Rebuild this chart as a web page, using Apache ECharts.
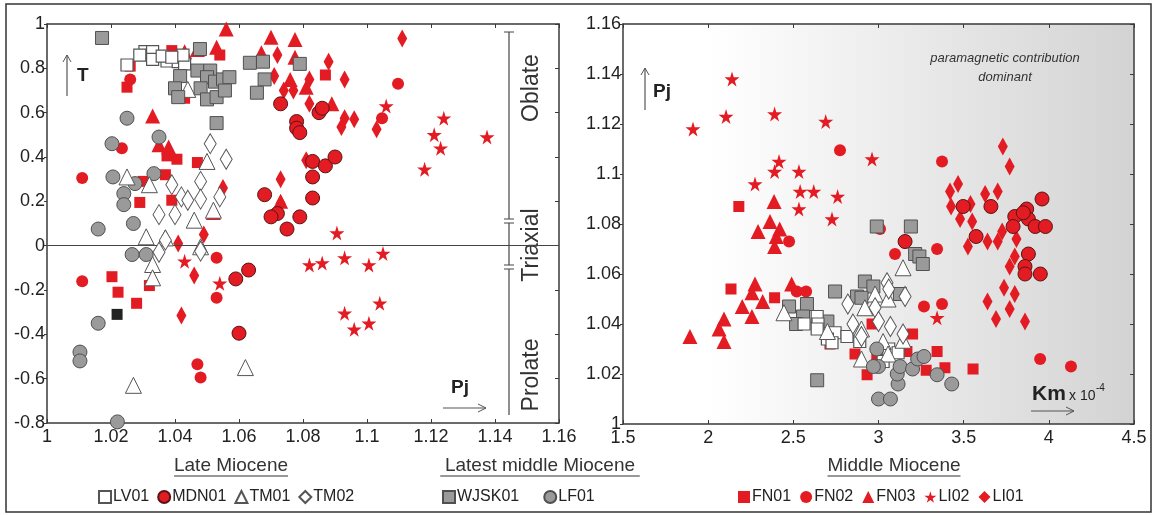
<!DOCTYPE html>
<html>
<head>
<meta charset="utf-8">
<script src="https://cdn.jsdelivr.net/npm/echarts@6/dist/echarts.min.js"></script>
<style>
  html, body { margin: 0; padding: 0; background: #fff; }
  #chart { width: 1154px; height: 515px; }
</style>
</head>
<body>
<div id="chart"></div>
<script>
// left panel: Pj (x) vs T (y)
var lv01L = [[1.025,0.815],[1.0306,0.875],[1.033,0.875],[1.033,0.84],[1.0375,0.833],[1.041,0.83],[1.043,0.82],[1.0425,0.86],[1.036,0.855],[1.029,0.86],[1.039,0.85]];
var mdn01L = [[1.073,0.64],[1.078,0.56],[1.078,0.53],[1.079,0.51],[1.085,0.60],[1.086,0.62],[1.083,0.38],[1.087,0.36],[1.090,0.40],[1.083,0.31],[1.083,0.215],[1.068,0.23],[1.072,0.145],[1.070,0.13],[1.075,0.075],[1.079,0.13],[1.059,-0.15],[1.063,-0.11],[1.060,-0.395]];
var tm01L = [[1.025,0.31],[1.032,0.275],[1.044,0.705],[1.050,0.38],[1.052,0.16],[1.046,0.115],[1.031,0.04],[1.037,0.035],[1.033,-0.085],[1.033,-0.145],[1.027,-0.63],[1.062,-0.55],[1.048,-0.005]];
var tm02L = [[1.051,0.46],[1.056,0.39],[1.039,0.275],[1.042,0.22],[1.048,0.29],[1.048,0.21],[1.054,0.22],[1.035,0.14],[1.040,0.14],[1.044,0.205],[1.037,0.025],[1.035,-0.03],[1.048,-0.025]];
var wjsk01L = [[1.0172,0.937],[1.0478,0.887],[1.0416,0.765],[1.047,0.79],[1.051,0.79],[1.050,0.76],[1.0525,0.74],[1.055,0.75],[1.057,0.76],[1.040,0.71],[1.041,0.67],[1.048,0.71],[1.050,0.66],[1.053,0.67],[1.0556,0.70],[1.053,0.553],[1.0634,0.825],[1.0675,0.83],[1.068,0.75],[1.0656,0.69],[1.079,0.82]];
var lf01L = [[1.025,0.575],[1.0203,0.46],[1.035,0.49],[1.0206,0.31],[1.0334,0.325],[1.0275,0.28],[1.024,0.235],[1.024,0.185],[1.027,0.10],[1.016,0.075],[1.0266,-0.04],[1.031,-0.04],[1.016,-0.35],[1.0103,-0.48],[1.0103,-0.52],[1.022,-0.795]];
var fn01L = [[1.026,0.81],[1.025,0.715],[1.039,0.88],[1.054,0.86],[1.0375,0.405],[1.0406,0.39],[1.047,0.375],[1.037,0.32],[1.029,0.195],[1.030,0.29],[1.039,0.205],[1.043,0.665],[1.0203,-0.14],[1.0222,-0.21],[1.028,-0.26],[1.032,-0.18],[1.087,0.77]];
var fn02L = [[1.026,0.75],[1.011,0.305],[1.0234,0.44],[1.011,-0.16],[1.053,-0.055],[1.053,-0.235],[1.047,-0.535],[1.048,-0.595],[1.1097,0.73],[1.1047,0.575]];
var fn03L = [[1.056,0.977],[1.033,0.585],[1.035,0.455],[1.038,0.445],[1.043,0.875],[1.047,0.885],[1.053,0.895],[1.070,0.94],[1.0775,0.93],[1.067,0.87],[1.076,0.75],[1.052,0.15],[1.0775,0.85],[1.081,0.715],[1.089,0.64],[1.073,0.20]];
var li02L = [[1.106,0.63],[1.124,0.575],[1.121,0.50],[1.123,0.44],[1.1375,0.49],[1.118,0.345],[1.0906,0.057],[1.082,-0.087],[1.086,-0.078],[1.093,-0.055],[1.1006,-0.087],[1.105,-0.035],[1.093,-0.305],[1.096,-0.377],[1.1006,-0.35],[1.104,-0.26],[1.043,-0.07],[1.054,-0.17]];
var li01L = [[1.072,0.86],[1.071,0.765],[1.073,0.30],[1.073,0.19],[1.041,0.01],[1.049,0.05],[1.055,0.26],[1.111,0.935],[1.088,0.83],[1.093,0.75],[1.082,0.75],[1.074,0.70],[1.077,0.70],[1.082,0.64],[1.092,0.535],[1.093,0.575],[1.096,0.57],[1.103,0.525],[1.081,0.385],[1.046,-0.135],[1.042,-0.315]];
var blackL = [[1.0219,-0.31]];

// right panel: Km x10^-4 (x) vs Pj (y)
var lv01R = [[2.64,1.043],[2.645,1.040],[2.563,1.040],[2.745,1.0365],[2.70,1.034],[2.815,1.035],[2.727,1.0325],[2.89,1.033],[3.06,1.030],[3.027,1.025],[3.115,1.0285],[2.64,1.038]];
var mdn01R = [[3.96,1.090],[3.87,1.086],[3.80,1.083],[3.88,1.082],[3.92,1.079],[3.98,1.079],[3.79,1.079],[3.66,1.087],[3.497,1.087],[3.573,1.075],[3.88,1.068],[3.86,1.063],[3.86,1.060],[3.95,1.060],[3.156,1.073],[3.85,1.0845]];
var tm01R = [[3.144,1.0625],[2.98,1.052],[3.056,1.050],[2.92,1.0465],[2.445,1.0445],[2.90,1.038],[3.144,1.0335],[3.027,1.033],[2.90,1.026],[3.056,1.028],[2.70,1.037]];
var tm02R = [[3.05,1.0565],[3.156,1.051],[2.82,1.048],[2.98,1.0465],[2.85,1.040],[3.0,1.041],[3.07,1.039],[3.144,1.036],[2.90,1.035],[3.06,1.054]];
var wjsk01R = [[2.99,1.079],[3.19,1.079],[3.215,1.068],[3.24,1.067],[3.26,1.064],[2.92,1.057],[2.97,1.055],[2.745,1.053],[2.874,1.051],[2.90,1.0505],[2.58,1.048],[2.475,1.047],[2.557,1.043],[2.516,1.040],[2.70,1.041],[2.64,1.0175],[3.126,1.052]];
var lf01R = [[3.0,1.010],[3.07,1.010],[3.115,1.016],[3.11,1.020],[3.127,1.023],[3.20,1.022],[3.23,1.026],[3.267,1.027],[3.0,1.023],[2.99,1.030],[3.344,1.0197],[3.43,1.016],[2.97,1.023]];
var fn01R = [[2.18,1.087],[2.134,1.054],[2.39,1.0505],[3.20,1.036],[3.344,1.029],[3.39,1.0225],[3.555,1.022],[3.28,1.0215],[2.933,1.0197],[2.862,1.028],[2.962,1.040],[3.167,1.029],[2.99,1.026],[2.715,1.032]];
var fn02R = [[2.774,1.1095],[2.475,1.073],[2.52,1.053],[2.575,1.053],[3.009,1.078],[3.097,1.068],[3.156,1.0725],[3.344,1.070],[3.267,1.047],[3.373,1.048],[3.373,1.105],[3.949,1.026],[4.13,1.023]];
var fn03R = [[2.387,1.089],[2.363,1.081],[2.293,1.077],[2.42,1.078],[2.40,1.075],[2.39,1.071],[2.275,1.056],[2.257,1.0525],[2.49,1.056],[2.32,1.049],[2.20,1.047],[2.257,1.043],[2.093,1.042],[2.064,1.038],[2.093,1.033],[1.893,1.035]];
var li02R = [[1.911,1.118],[2.105,1.123],[2.14,1.138],[2.39,1.124],[2.416,1.105],[2.39,1.101],[2.533,1.101],[2.275,1.096],[2.54,1.093],[2.62,1.093],[2.69,1.121],[2.76,1.091],[2.533,1.086],[2.727,1.082],[2.962,1.106],[3.344,1.0425]];
var li01R = [[3.73,1.111],[3.77,1.103],[3.42,1.093],[3.467,1.096],[3.426,1.087],[3.54,1.088],[3.626,1.092],[3.70,1.093],[3.479,1.082],[3.55,1.081],[3.726,1.077],[3.70,1.073],[3.81,1.074],[3.64,1.073],[3.525,1.071],[3.80,1.067],[3.77,1.063],[3.737,1.0545],[3.80,1.052],[3.64,1.049],[3.77,1.046],[3.69,1.042],[3.86,1.041]];

var legendLate = ['LV01', 'MDN01', 'TM01', 'TM02'];
var legendLatest = ['WJSK01', 'LF01'];
var legendMiddle = ['FN01', 'FN02', 'FN03', 'LI02', 'LI01'];

var RED = '#e31b23';
var STAR = 'path://M50,0 L61,35 L98,35 L68,57 L79,91 L50,70 L21,91 L32,57 L2,35 L39,35 Z';

// marker styles for each sample
var styles = {
  LV01:  { symbol: 'rect', size: 12, item: { color: '#fff', borderColor: '#555', borderWidth: 1.2 } },
  MDN01: { symbol: 'circle', size: 14, item: { color: RED, borderColor: '#5a1414', borderWidth: 1 } },
  TM01:  { symbol: 'triangle', size: 16, item: { color: '#fff', borderColor: '#555', borderWidth: 1 } },
  TM02:  { symbol: 'diamond', size: [12, 20], item: { color: '#fff', borderColor: '#555', borderWidth: 1 } },
  WJSK01:{ symbol: 'rect', size: 13, item: { color: '#9a9a9a', borderColor: '#505050', borderWidth: 1 } },
  LF01:  { symbol: 'circle', size: 14, item: { color: '#9a9a9a', borderColor: '#505050', borderWidth: 1 } },
  FN01:  { symbol: 'rect', size: 11, item: { color: RED } },
  FN02:  { symbol: 'circle', size: 12, item: { color: RED } },
  FN03:  { symbol: 'triangle', size: 15, item: { color: RED } },
  LI02:  { symbol: STAR, size: 15, item: { color: RED } },
  LI01:  { symbol: 'diamond', size: [10, 18], item: { color: RED } }
};

function sc(name, data, panel, z) {
  var s = styles[name];
  return {
    name: name,
    type: 'scatter',
    xAxisIndex: panel === 0 ? 0 : 2,
    yAxisIndex: panel === 0 ? 0 : 2,
    symbol: s.symbol,
    symbolSize: s.size,
    itemStyle: Object.assign({ opacity: 1 }, s.item),
    data: data,
    z: z
  };
}

var chart = echarts.init(document.getElementById('chart'));
var axisCol = '#3a3a3a';
var labStyle = { color: '#222', fontSize: 18, fontFamily: 'Liberation Sans, Arial' };

function mirrorX(grid, pos, min, max, interval) {
  return { type: 'value', gridIndex: grid, position: pos, min: min, max: max, interval: interval,
    axisLine: { show: true, onZero: false, lineStyle: { color: axisCol, width: 1.5 } },
    axisTick: { show: true, inside: true, length: 4, lineStyle: { color: axisCol } },
    axisLabel: { show: false }, splitLine: { show: false } };
}

var series = [
  sc('FN01', fn01L, 0, 3), sc('FN02', fn02L, 0, 3), sc('FN03', fn03L, 0, 3),
  sc('LI02', li02L, 0, 3), sc('LI01', li01L, 0, 3), sc('MDN01', mdn01L, 0, 4),
  sc('LV01', lv01L, 0, 5), sc('WJSK01', wjsk01L, 0, 6), sc('LF01', lf01L, 0, 5),
  sc('TM01', tm01L, 0, 5), sc('TM02', tm02L, 0, 5),
  {
    name: 'black', type: 'scatter', xAxisIndex: 0, yAxisIndex: 0, symbol: 'rect', symbolSize: 11,
    itemStyle: { color: '#222', opacity: 1 }, data: blackL, z: 5,
    markLine: { silent: true, symbol: 'none', label: { show: false },
      lineStyle: { color: '#444', width: 1, type: 'solid' }, data: [{ yAxis: 0 }] }
  },
  sc('FN01', fn01R, 1, 3), sc('FN02', fn02R, 1, 3), sc('FN03', fn03R, 1, 3),
  sc('LI02', li02R, 1, 3), sc('LI01', li01R, 1, 3), sc('MDN01', mdn01R, 1, 4),
  sc('WJSK01', wjsk01R, 1, 4), sc('LV01', lv01R, 1, 5), sc('TM01', tm01R, 1, 5),
  sc('TM02', tm02R, 1, 5), sc('LF01', lf01R, 1, 6)
];

function legendAt(left, names, gap) {
  return {
    left: left, top: 484, data: names, itemWidth: 12, itemHeight: 12, itemGap: gap,
    selectedMode: false, textStyle: { color: '#222', fontSize: 16, fontFamily: 'Liberation Sans, Arial', padding: [0, 0, 0, -3] }
  };
}

function arrowUp(x, y1, y2) {
  return [
    { type: 'line', shape: { x1: x, y1: y1, x2: x, y2: y2 }, style: { stroke: '#555', lineWidth: 1.2 } },
    { type: 'polyline', shape: { points: [[x - 4, y2 + 7], [x, y2], [x + 4, y2 + 7]] }, style: { stroke: '#555', lineWidth: 1, fill: null } }
  ];
}
function arrowRight(y, x1, x2) {
  return [
    { type: 'line', shape: { x1: x1, y1: y, x2: x2, y2: y }, style: { stroke: '#555', lineWidth: 1.2 } },
    { type: 'polyline', shape: { points: [[x2 - 8, y - 4], [x2, y], [x2 - 8, y + 4]] }, style: { stroke: '#555', lineWidth: 1, fill: null } }
  ];
}
function txt(x, y, s, font, extra) {
  var st = { text: s, x: x, y: y, font: font, fill: '#222', textAlign: 'left', textVerticalAlign: 'middle' };
  if (extra) { for (var k in extra) st[k] = extra[k]; }
  return { type: 'text', style: st, z: 10 };
}
function heading(cx, s) {
  return [
    txt(cx, 466, s, '19px Liberation Sans', { textAlign: 'center', fill: '#333' }),
    { type: 'line', shape: { x1: cx - s.length * 4.75, y1: 476, x2: cx + s.length * 4.75, y2: 476 }, style: { stroke: '#333', lineWidth: 1 } }
  ];
}

var g = [
  { type: 'rect', shape: { x: 6, y: 4, width: 1145, height: 508 }, style: { fill: null, stroke: '#333', lineWidth: 1.5 }, z: -5 },
  txt(77, 76, 'T', 'bold 19px Liberation Sans'),
  txt(451, 388, 'Pj', 'bold 19px Liberation Sans'),
  txt(653, 92, 'Pj', 'bold 19px Liberation Sans'),
  txt(1032, 394, 'Km', 'bold 21px Liberation Sans'),
  txt(1069, 396, 'x 10', '14px Liberation Sans'),
  txt(1096, 388, '-4', '10px Liberation Sans'),
  txt(1005, 58, 'paramagnetic contribution', 'italic 13px Liberation Sans', { textAlign: 'center', fill: '#333' }),
  txt(1005, 77, 'dominant', 'italic 13px Liberation Sans', { textAlign: 'center', fill: '#333' }),
  { type: 'text', x: 532, y: 88, rotation: Math.PI / 2, style: { text: 'Oblate', font: '23px Liberation Sans', fill: '#333', textAlign: 'center', textVerticalAlign: 'middle' } },
  { type: 'text', x: 532, y: 245, rotation: Math.PI / 2, style: { text: 'Triaxial', font: '23px Liberation Sans', fill: '#333', textAlign: 'center', textVerticalAlign: 'middle' } },
  { type: 'text', x: 532, y: 375, rotation: Math.PI / 2, style: { text: 'Prolate', font: '23px Liberation Sans', fill: '#333', textAlign: 'center', textVerticalAlign: 'middle' } },
  { type: 'line', shape: { x1: 509, y1: 32, x2: 509, y2: 219 }, style: { stroke: '#444', lineWidth: 1.2 } },
  { type: 'line', shape: { x1: 509, y1: 223, x2: 509, y2: 265 }, style: { stroke: '#444', lineWidth: 1.2 } },
  { type: 'line', shape: { x1: 509, y1: 269, x2: 509, y2: 415 }, style: { stroke: '#444', lineWidth: 1.2 } },
  { type: 'line', shape: { x1: 504, y1: 219, x2: 514, y2: 219 }, style: { stroke: '#444', lineWidth: 1 } },
  { type: 'line', shape: { x1: 504, y1: 223, x2: 514, y2: 223 }, style: { stroke: '#444', lineWidth: 1 } },
  { type: 'line', shape: { x1: 504, y1: 265, x2: 514, y2: 265 }, style: { stroke: '#444', lineWidth: 1 } },
  { type: 'line', shape: { x1: 504, y1: 269, x2: 514, y2: 269 }, style: { stroke: '#444', lineWidth: 1 } },
  { type: 'line', shape: { x1: 504, y1: 32, x2: 514, y2: 32 }, style: { stroke: '#444', lineWidth: 1 } }
];
g = g.concat(arrowUp(67, 96, 55), arrowRight(408, 443, 486), arrowUp(645, 110, 68), arrowRight(411, 1031, 1074));
g = g.concat(heading(231, 'Late Miocene'), heading(540, 'Latest middle Miocene'), heading(894, 'Middle Miocene'));

var option = {
  backgroundColor: '#fff',
  animation: false,
  grid: [
    { left: 47, top: 24, width: 512, height: 399, show: true, borderWidth: 0, backgroundColor: '#fff' },
    { left: 623, top: 24, width: 511, height: 400, show: true, borderWidth: 0,
      backgroundColor: { type: 'linear', x: 0, y: 0, x2: 1, y2: 0,
        colorStops: [{ offset: 0, color: '#ffffff' }, { offset: 0.17, color: '#ffffff' }, { offset: 1, color: '#d3d3d3' }] } }
  ],
  xAxis: [
    { type: 'value', gridIndex: 0, min: 1, max: 1.16, interval: 0.02,
      axisLine: { onZero: false, lineStyle: { color: axisCol, width: 1.5 } },
      axisTick: { inside: true, length: 4, lineStyle: { color: axisCol } },
      axisLabel: Object.assign({ margin: 5 }, labStyle), splitLine: { show: false } },
    mirrorX(0, 'top', 1, 1.16, 0.02),
    { type: 'value', gridIndex: 1, min: 1.5, max: 4.5, interval: 0.5,
      axisLine: { onZero: false, lineStyle: { color: axisCol, width: 1.5 } },
      axisTick: { inside: true, length: 4, lineStyle: { color: axisCol } },
      axisLabel: Object.assign({ margin: 5 }, labStyle), splitLine: { show: false } },
    mirrorX(1, 'top', 1.5, 4.5, 0.5)
  ],
  yAxis: [
    { type: 'value', gridIndex: 0, min: -0.8, max: 1, interval: 0.2,
      axisLine: { onZero: false, lineStyle: { color: axisCol, width: 1.5 } },
      axisTick: { inside: false, length: 3, lineStyle: { color: axisCol } },
      axisLabel: Object.assign({ margin: 2 }, labStyle), splitLine: { show: false } },
    mirrorX(0, 'right', -0.8, 1, 0.2),
    { type: 'value', gridIndex: 1, min: 1, max: 1.16, interval: 0.02,
      axisLine: { onZero: false, lineStyle: { color: axisCol, width: 1.5 } },
      axisTick: { inside: false, length: 3, lineStyle: { color: axisCol } },
      axisLabel: Object.assign({ margin: 2 }, labStyle), splitLine: { show: false } },
    mirrorX(1, 'right', 1, 1.16, 0.02)
  ],
  legend: [legendAt(93, legendLate, 8), legendAt(437, legendLatest, 24), legendAt(733, legendMiddle, 9)],
  graphic: { elements: g },
  series: series
};
chart.setOption(option);
</script>
</body>
</html>
